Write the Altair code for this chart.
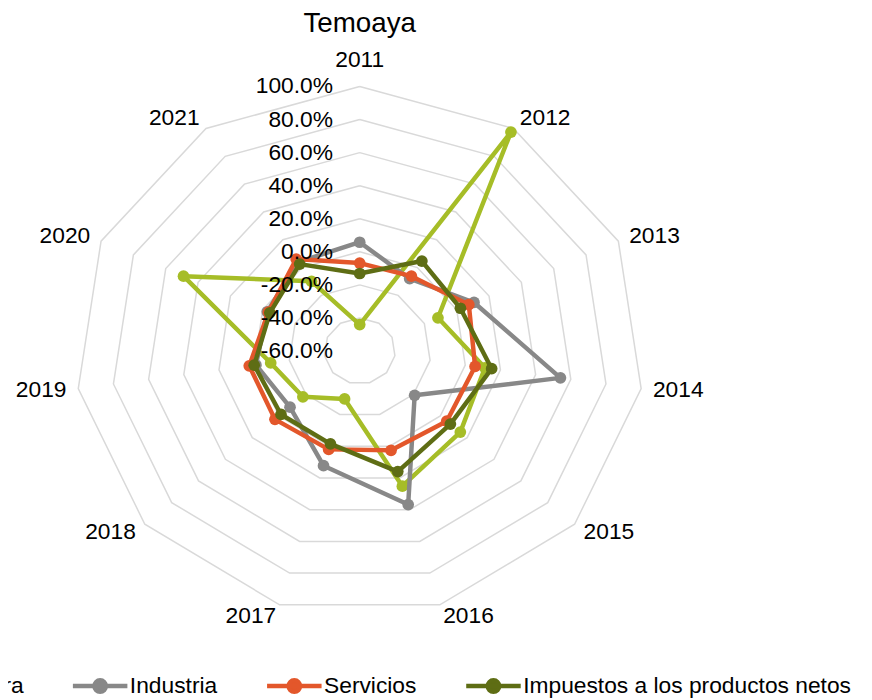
import altair as alt
import numpy as np
import pandas as pd

# ---------------- data ----------------
years = ["2011", "2012", "2013", "2014", "2015", "2016",
         "2017", "2018", "2019", "2020", "2021"]
series = ["Agricultura", "Industria", "Servicios",
          "Impuestos a los productos netos"]
agricultura = [-44.0, 97.4, -11.6, 11.2, 14.9, 25.2, -29.8, -17.7, -9.4, 49.0, -9.9]
industria = [5.8, -8.0, 10.7, 54.1, -19.1, 36.8, 12.3, -8.1, -1.0, -2.8, 4.0]
servicios = [-6.8, -6.2, 7.5, 5.6, 4.8, 2.6, 2.0, 3.1, 2.8, -3.5, 6.1]
impuestos = [-13.1, 4.7, 2.3, 15.0, 7.5, 16.0, -1.5, -1.4, 0.0, -4.4, 2.5]
tick_values = [-60, -40, -20, 0, 20, 40, 60, 80, 100]
tick_labels = ["-60.0%", "-40.0%", "-20.0%", "0.0%", "20.0%",
               "40.0%", "60.0%", "80.0%", "100.0%"]
colors = ["#A6BD27", "#888888", "#E3572B", "#5E6D14"]

RMIN, RMAX = -60.0, 100.0
values = {"Agricultura": agricultura, "Industria": industria,
          "Servicios": servicios, "Impuestos a los productos netos": impuestos}

# ---------------- layout (plot area in pixels) ----------------
W, H = 864, 692
CX, CY = 355.0, 343.0      # centre of radar in svg px
RX, RY = 287.0, 267.0      # outer ring radii in px
FONT = "Liberation Sans"
FS = 23

n = len(years)
theta = [2 * np.pi * k / n for k in range(n)]


def rho(v):
    return (v - RMIN) / (RMAX - RMIN)


rows = []
for s in series:
    for k in range(n + 1):
        kk = k % n
        r = rho(values[s][kk])
        rows.append({"serie": s, "k": k, "year": years[kk], "valor": values[s][kk],
                     "x": r * np.sin(theta[kk]), "y": r * np.cos(theta[kk])})
line_df = pd.DataFrame(rows)
pt_df = line_df[line_df.k < n]

grid_rows = []
for lv in tick_values[1:]:
    for k in range(n + 1):
        kk = k % n
        r = rho(lv)
        grid_rows.append({"level": lv, "k": k,
                          "x": r * np.sin(theta[kk]), "y": r * np.cos(theta[kk])})
grid_df = pd.DataFrame(grid_rows)

tick_df = pd.DataFrame({"v": tick_values, "t": tick_labels})
tick_df["x"] = 0.0
tick_df["y"] = [rho(v) for v in tick_values]

lab_rows = []
for k in range(n):
    th = theta[k]
    side = "top" if k == 0 else ("right" if k <= 5 else "left")
    lx = np.sin(th) + 12 * np.sin(th) / RX
    ly = np.cos(th) + 12 * np.cos(th) / RY
    if side == "top":
        ly = 1 + 20 / RY
    lab_rows.append({"year": years[k], "side": side, "x": lx, "y": ly})
lab_df = pd.DataFrame(lab_rows)

xs = alt.Scale(domain=[-CX / RX, (W - CX) / RX], nice=False, zero=False)
ys = alt.Scale(domain=[-(H - CY) / RY, CY / RY], nice=False, zero=False)
X = alt.X("x:Q", scale=xs, axis=None)
Y = alt.Y("y:Q", scale=ys, axis=None)

sym = "M-1,0L1,0M-0.21,0A0.21,0.21,0,1,0,0.21,0A0.21,0.21,0,1,0,-0.21,0Z"
leg = alt.Legend(title=None, orient="none", direction="horizontal",
                 legendX=-154, legendY=651, symbolType=sym, symbolSize=3025,
                 symbolStrokeWidth=4.5, labelFontSize=23, labelFont=FONT,
                 labelColor="black", columnPadding=40, labelOffset=0, padding=0,
                 labelLimit=600)
cscale = alt.Scale(domain=series, range=colors)

grid = alt.Chart(grid_df).mark_line(color="#d9d9d9", strokeWidth=1.5).encode(
    x=X, y=Y, detail="level:N", order="k:Q")

layers = [grid]
for s in series:
    ln = alt.Chart(line_df).transform_filter(alt.datum.serie == s).mark_line(
        strokeWidth=4.5, strokeJoin="round").encode(
        x=X, y=Y, order="k:Q",
        stroke=alt.Stroke("serie:N", scale=cscale, legend=leg))
    pt = alt.Chart(pt_df).transform_filter(alt.datum.serie == s).mark_circle(
        size=140, opacity=1).encode(
        x=X, y=Y,
        fill=alt.Fill("serie:N", scale=cscale, legend=leg))
    layers += [ln, pt]

ticks = alt.Chart(tick_df).mark_text(align="right", baseline="middle", dx=-27,
                                     font=FONT, fontSize=FS, color="black").encode(
    x=X, y=Y, text="t:N")

lab_r = alt.Chart(lab_df).transform_filter(alt.datum.side == "right").mark_text(
    align="left", baseline="middle", font=FONT, fontSize=FS, color="black").encode(
    x=X, y=Y, text="year:N")
lab_l = alt.Chart(lab_df).transform_filter(alt.datum.side == "left").mark_text(
    align="right", baseline="middle", font=FONT, fontSize=FS, color="black").encode(
    x=X, y=Y, text="year:N")
lab_t = alt.Chart(lab_df).transform_filter(alt.datum.side == "top").mark_text(
    align="center", baseline="alphabetic", font=FONT, fontSize=FS, color="black").encode(
    x=X, y=Y, text="year:N")

layers += [ticks, lab_r, lab_l, lab_t]

chart = alt.layer(*layers).properties(
    width=W, height=H, padding=0, autosize=alt.AutoSizeParams(type="none"),
    title=alt.TitleParams("Temoaya", font=FONT, fontSize=28, fontWeight="normal",
                          color="black", anchor="middle", dx=CX - W / 2, offset=-27)
).configure_view(stroke=None)

chart.save("out.html", embed_options={"renderer": "svg", "actions": False})
